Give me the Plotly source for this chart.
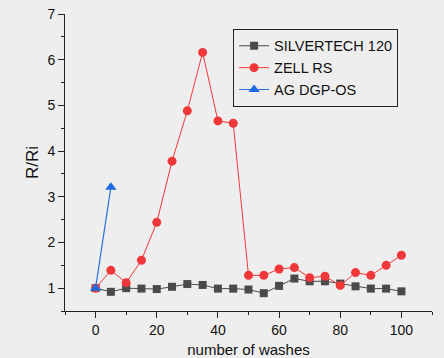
import plotly.graph_objects as go

washes = [0, 5, 10, 15, 20, 25, 30, 35, 40, 45, 50, 55, 60, 65, 70, 75, 80, 85, 90, 95, 100]
silvertech = [1.00, 0.92, 1.00, 0.99, 0.98, 1.03, 1.09, 1.07, 0.99, 0.99, 0.97, 0.89, 1.05, 1.21, 1.15, 1.15, 1.10, 1.04, 0.99, 0.99, 0.93]
zell = [1.00, 1.39, 1.12, 1.61, 2.44, 3.78, 4.88, 6.16, 4.66, 4.61, 1.28, 1.28, 1.42, 1.45, 1.23, 1.26, 1.06, 1.34, 1.28, 1.50, 1.72]
ag_x = [0, 5]
ag = [1.00, 3.21]

FONT = "Liberation Sans, Arial, sans-serif"

fig = go.Figure()
fig.add_trace(go.Scatter(x=washes, y=silvertech, name="SILVERTECH 120", mode="lines+markers",
                         line=dict(color="#4a4a4a", width=1),
                         marker=dict(symbol="square", size=8, color="#4a4a4a")))
fig.add_trace(go.Scatter(x=washes, y=zell, name="ZELL RS", mode="lines+markers",
                         line=dict(color="#f0383b", width=1),
                         marker=dict(symbol="circle", size=9, color="#f0383b")))
fig.add_trace(go.Scatter(x=ag_x, y=ag, name="AG DGP-OS", mode="lines+markers",
                         line=dict(color="#2a6fdb", width=1.2),
                         marker=dict(symbol="triangle-up", size=10, color="#1f6ae0")))

fig.update_layout(
    width=444, height=358,
    margin=dict(l=65, r=12, t=14, b=47),
    paper_bgcolor="#eeeeee", plot_bgcolor="#eeeeee",
    font=dict(family=FONT, size=14, color="#111111"),
    showlegend=True,
    legend=dict(x=0.458, y=0.95, xanchor="left", yanchor="top",
                bgcolor="rgba(0,0,0,0)", bordercolor="#222222", borderwidth=1,
                font=dict(size=14.5, family=FONT), tracegroupgap=0,
                itemwidth=30),
    xaxis=dict(range=[-10, 110], tickvals=[0, 20, 40, 60, 80, 100], automargin=False,
               showgrid=False, zeroline=False, showline=True, linecolor="#222222", linewidth=1,
               ticks="outside", ticklen=6, tickcolor="#222222",
               minor=dict(dtick=10, tick0=0, ticks="outside", ticklen=3, tickcolor="#222222", showgrid=False),
               title=dict(text="number of washes", font=dict(size=15), standoff=14)),
    yaxis=dict(range=[0.5, 7], tickvals=[1, 2, 3, 4, 5, 6, 7], automargin=False,
               showgrid=False, zeroline=False, showline=True, linecolor="#222222", linewidth=1,
               ticks="outside", ticklen=6, tickcolor="#222222",
               minor=dict(dtick=0.5, tick0=0.5, ticks="outside", ticklen=3, tickcolor="#222222", showgrid=False),
               title=dict(text="R/Ri", font=dict(size=17), standoff=4)),
)

fig.write_html("out.html")
